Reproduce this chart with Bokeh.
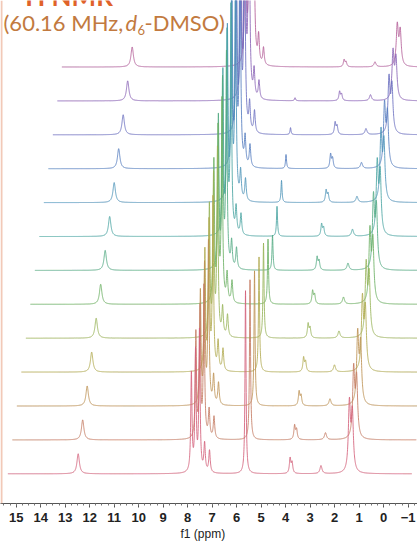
import numpy as np
from bokeh.plotting import figure
from bokeh.models import Range1d, Label, SingleIntervalTicker, Title, ColumnDataSource, Span
from bokeh.embed import file_html
from bokeh.resources import INLINE

# ---------------- data ----------------
# 13 stacked 1H NMR spectra, index 0 = bottom trace, 12 = top trace
trace_colors = ["#d4607a", "#c47a62", "#bd9254", "#b2aa50", "#96b458", "#6cb064",
                "#52aa82", "#4aa4a2", "#4c94b8", "#567ec0", "#6a6ec0", "#8a64b6", "#b45e98"]

# carboxylic-acid singlet
cooh_ppm = 12.47
cooh_height = [20, 20, 20, 20, 20, 20, 20, 20, 20, 20, 20, 20, 20]

# aromatic multiplet: shifts and heights per trace
arom_ppm = [7.85, 7.68, 7.52, 7.31, 7.11]
arom_h1 = [98, 105, 112, 119, 130, 140, 150, 161, 171, 182, 189, 196, 203]
arom_h2 = [119, 128, 136, 145, 157, 170, 183, 196, 208, 221, 230, 238, 247]
arom_h3 = [140, 150, 160, 170, 185, 200, 212, 225, 245, 260, 270, 280, 290]
arom_h4 = [28, 28, 28, 28, 28, 28, 26, 26, 28, 28, 28, 27, 27]
arom_h5 = [22, 22, 22, 22, 22, 22, 21, 21, 22, 22, 22, 18, 17]

# sharp singlet near 5.64 ppm (decreasing up the stack)
s564_ppm = 5.64
s564_height = [183, 160, 135, 115, 95, 65, 35, 30, 22, 14, 7, 3, 0]

# doublet near 3.8 ppm
d38_ppm = [3.82, 3.74]
d38_height = [15, 14, 14, 14, 14, 13, 13, 12, 12, 14, 12, 9, 7]

# residual solvent (DMSO) near 2.56 ppm
dmso_ppm = 2.56
dmso_height = [8, 7, 7, 7, 7, 7, 7, 7, 6, 6, 6, 6, 5]

# broad peak near 1.4-1.65 ppm (with shoulder)
b14_ppm = [1.40, 1.41, 1.43, 1.42, 1.45, 1.48, 1.52, 1.55, 1.58, 1.62, 1.62, 1.64, 1.65]
b14_height = [68, 68, 69, 70, 70, 70, 70, 70, 67, 61, 54, 47, 40]

tick_interval = 1

# ---------------- layout helpers (canvas pixels) ----------------
W, H = 417, 545
AXIS_Y = 503
PX_PER_PPM = 24.5
def px2ppm(cx):
    return 15 - (cx - 15.7) / PX_PER_PPM

def py2y(cy):
    return AXIS_Y - cy

skew_ppm = 4.5 / PX_PER_PPM
stack_step = 33.9
stack_base = 29.7

def lorentz(x, x0, h, w):
    return h * w * w / ((x - x0) ** 2 + w * w)

p = figure(width=W, height=H, output_backend="svg", toolbar_location=None,
           x_range=Range1d(px2ppm(0), px2ppm(W)), y_range=Range1d(0, AXIS_Y),
           min_border_left=0, min_border_right=0, min_border_top=0,
           min_border_bottom=H - AXIS_Y)
p.background_fill_color = "white"
p.border_fill_color = "white"
p.outline_line_color = None
p.grid.visible = False
p.yaxis.visible = False

# faint page edge at the far left
p.add_layout(Span(location=px2ppm(1), dimension="height", line_color="#f2c9b8", line_width=2))

own = np.arange(15.34, -1.15, -0.004)
for k in reversed(range(13)):
    peaks = [(cooh_ppm, cooh_height[k], 0.06),
             (arom_ppm[0], arom_h1[k], 0.03), (arom_ppm[1], arom_h2[k], 0.03),
             (arom_ppm[2], arom_h3[k], 0.03), (arom_ppm[3], arom_h4[k], 0.035),
             (arom_ppm[4], arom_h5[k], 0.035),
             (s564_ppm, s564_height[k], 0.025),
             (d38_ppm[0], d38_height[k], 0.035), (d38_ppm[1], 0.7 * d38_height[k], 0.035),
             (dmso_ppm, dmso_height[k], 0.05),
             (b14_ppm[k], b14_height[k], 0.05), (b14_ppm[k] - 0.12, 0.85 * b14_height[k], 0.05)]
    xs = np.union1d(own, [pk[0] for pk in peaks])[::-1]
    ys = np.zeros_like(xs)
    for x0, h, w in peaks:
        ys += lorentz(xs, x0, h, w)
    src = ColumnDataSource(dict(x=xs - k * skew_ppm, y=ys + stack_base + k * stack_step))
    p.line("x", "y", source=src, line_color=trace_colors[k], line_width=1.0, line_alpha=0.85)

# axis
ax = p.xaxis[0]
ax.ticker = SingleIntervalTicker(interval=tick_interval, num_minor_ticks=4)
ax.axis_line_color = "#555555"
ax.major_tick_line_color = "#555555"
ax.minor_tick_line_color = "#777777"
ax.major_tick_in = 0
ax.major_tick_out = 4
ax.minor_tick_in = 0
ax.minor_tick_out = 2
ax.major_label_standoff = 5
ax.major_label_text_font = "Liberation Sans"
ax.major_label_text_font_style = "bold"
ax.major_label_text_font_size = "13px"
ax.major_label_text_color = "#222222"

p.add_layout(Title(text="f1 (ppm)", align="left", offset=180, standoff=0,
                   text_font="Liberation Sans", text_font_size="12px",
                   text_font_style="normal", text_color="#222222"), "below")

# header texts (top line is cut by the picture edge, as in the original)
orange = "#c27a40"
p.add_layout(Label(x=px2ppm(16), y=py2y(-5), text="¹H NMR", text_font="Lato",
                   text_font_style="bold", text_font_size="26px", text_color="#e0622a",
                   text_baseline="alphabetic"))
p.add_layout(Label(x=px2ppm(3), y=py2y(22), text="(60.16 MHz,", text_font="Lato",
                   text_font_size="22px", text_color=orange, text_baseline="alphabetic"))
p.add_layout(Label(x=px2ppm(125), y=py2y(22), text="d", text_font="Lato",
                   text_font_style="italic", text_font_size="22px", text_color=orange,
                   text_baseline="alphabetic"))
p.add_layout(Label(x=px2ppm(137), y=py2y(29), text="6", text_font="Lato",
                   text_font_size="13px", text_color=orange, text_baseline="alphabetic"))
p.add_layout(Label(x=px2ppm(144), y=py2y(22), text="-DMSO)", text_font="Lato",
                   text_font_size="22px", text_color=orange, text_baseline="alphabetic"))

open("out.html", "w").write(file_html(p, INLINE))
